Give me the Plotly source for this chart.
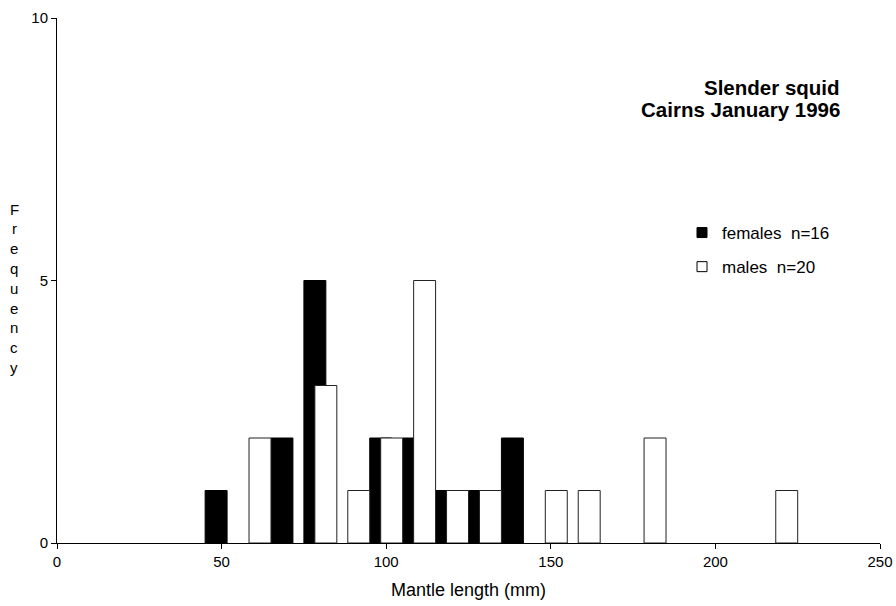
import plotly.graph_objects as go

# 10 mm length classes (bin centres, mm)
female_bins = [50, 70, 80, 100, 110, 120, 130, 140]
female_freq = [1, 2, 5, 2, 2, 1, 1, 2]
male_bins = [60, 80, 90, 100, 110, 120, 130, 150, 160, 180, 220]
male_freq = [2, 3, 1, 2, 5, 1, 1, 1, 1, 2, 1]

title_lines = ["Slender squid", "Cairns January 1996"]

FONT = "Liberation Sans, Arial, sans-serif"
W, H = 896, 606
ML, MR, MT, MB = 57, 16, 18, 63
PW, PH = W - ML - MR, H - MT - MB

bw = 20 / 3  # bar width in mm, bars of the two sexes overlap by a third

fig = go.Figure()
fig.add_trace(go.Bar(
    x=female_bins, y=female_freq, width=bw, offset=-5,
    showlegend=False,
    marker=dict(color="black", line=dict(color="black", width=1)),
))
fig.add_trace(go.Bar(
    x=male_bins, y=male_freq, width=bw, offset=-5 + bw / 2,
    showlegend=False,
    marker=dict(color="white", line=dict(color="#222", width=1)),
))
# small square keys for the legend
fig.add_trace(go.Scatter(
    x=[None], y=[None], mode="markers", name="females\u00a0\u00a0n=16", legendgroup="f",
    marker=dict(symbol="square", size=10, color="black", line=dict(color="black", width=1)),
))
fig.add_trace(go.Scatter(
    x=[None], y=[None], mode="markers", name="males\u00a0\u00a0n=20", legendgroup="m",
    marker=dict(symbol="square", size=10, color="white", line=dict(color="black", width=1)),
))


def px_x(p):
    return (p - ML) / PW


def px_y(p):
    return (H - MB - p) / PH


annotations = []
for i, line in enumerate(title_lines):
    annotations.append(dict(
        text="<b>%s</b>" % line,
        xref="paper", yref="paper", x=px_x(842), y=px_y(88 + i * 22),
        xanchor="right", yanchor="middle", showarrow=False,
        font=dict(family=FONT, size=20.5, color="black"),
    ))
# stacked y-axis title
for i, ch in enumerate("Frequency"):
    annotations.append(dict(
        text=ch, xref="paper", yref="paper", x=px_x(14), y=px_y(209 + i * 19.8),
        xanchor="center", yanchor="middle", showarrow=False,
        font=dict(family=FONT, size=15, color="black"),
    ))

fig.update_layout(
    width=W, height=H,
    margin=dict(l=ML, r=MR, t=MT, b=MB, autoexpand=False),
    paper_bgcolor="white", plot_bgcolor="white",
    barmode="overlay",
    font=dict(family=FONT, size=15, color="black"),
    showlegend=True,
    legend=dict(
        x=px_x(682), y=px_y(215), xanchor="left", yanchor="top",
        bgcolor="rgba(0,0,0,0)", traceorder="grouped", tracegroupgap=9,
        font=dict(family=FONT, size=17, color="black"),
        itemwidth=30,
    ),
    annotations=annotations,
    xaxis=dict(
        range=[0, 250], tickvals=[0, 50, 100, 150, 200, 250],
        showline=True, linecolor="black", linewidth=1,
        ticks="outside", ticklen=5, tickcolor="black",
        showgrid=False, zeroline=False, automargin=False,
        title=dict(text="Mantle length (mm)", font=dict(family=FONT, size=18), standoff=14),
        tickfont=dict(size=15),
    ),
    yaxis=dict(
        range=[0, 10], tickvals=[0, 5, 10],
        showline=True, linecolor="black", linewidth=1,
        ticks="outside", ticklen=5, tickcolor="black",
        showgrid=False, zeroline=False, automargin=False,
        tickfont=dict(size=15),
    ),
)

fig.write_html("out.html", config={"displayModeBar": False},
               post_script="document.body.style.margin='0';")
